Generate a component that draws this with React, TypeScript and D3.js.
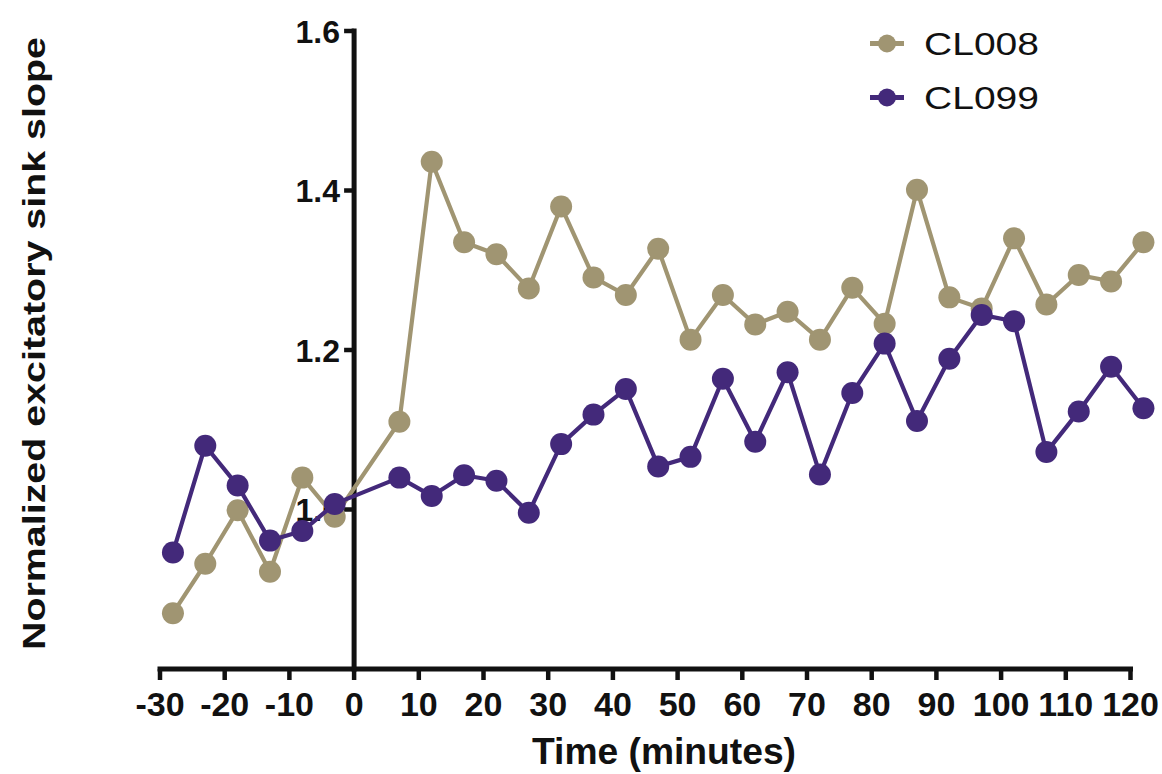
import React from "react";
import * as d3 from "d3";

// Sampling times (minutes relative to induction)
const times = [
  -28, -23, -18, -13, -8, -3, 7, 12, 17, 22, 27, 32, 37, 42, 47, 52, 57, 62,
  67, 72, 77, 82, 87, 92, 97, 102, 107, 112, 117, 122,
];

const cl008 = [
  0.87, 0.932, 0.999, 0.922, 1.04, 0.991, 1.11, 1.436, 1.335, 1.32, 1.277,
  1.38, 1.291, 1.269, 1.327, 1.213, 1.269, 1.232, 1.248, 1.213, 1.278, 1.233,
  1.401, 1.266, 1.252, 1.34, 1.257, 1.294, 1.286, 1.335,
];

const cl099 = [
  0.946, 1.08, 1.03, 0.961, 0.973, 1.007, 1.04, 1.017, 1.043, 1.036, 0.996,
  1.082, 1.119, 1.151, 1.054, 1.066, 1.164, 1.085, 1.172, 1.044, 1.146, 1.208,
  1.111, 1.189, 1.244, 1.236, 1.072, 1.123, 1.179, 1.127,
];

const seriesNames = ["CL008", "CL099"];
const seriesColors = ["#A09572", "#43297A"];

const xTicks = [-30, -20, -10, 0, 10, 20, 30, 40, 50, 60, 70, 80, 90, 100, 110, 120];
const yTicks = [1, 1.2, 1.4, 1.6];

const W = 1162;
const H = 774;

export default function App() {
  const x = d3.scaleLinear().domain([-30, 120]).range([160, 1130.5]);
  const y = d3.scaleLinear().domain([0.8, 1.6]).range([669, 31]);
  const yFmt = d3.format(".1f");

  const line = d3
    .line<[number, number]>()
    .x((d) => x(d[0]))
    .y((d) => y(d[1]));

  const series = [cl008, cl099].map((vals) =>
    times.map((t, i) => [t, vals[i]] as [number, number])
  );

  const x0 = x(0);
  const yBase = y(0.8);
  const font = "'Liberation Sans', Arial, sans-serif";

  return (
    <svg
      width={W}
      height={H}
      viewBox={`0 0 ${W} ${H}`}
      style={{ position: "absolute", left: 0, top: 0, display: "block", background: "#fff" }}
      fontFamily={font}
    >
      {/* y tick labels (drawn under the data) */}
      {yTicks.map((v) => (
        <text
          key={"yl" + v}
          x={340}
          y={y(v) + 11.5}
          textAnchor="end"
          fontSize={32}
          fontWeight="bold"
          fill="#111"
        >
          {yFmt(v)}
        </text>
      ))}

      {/* x axis */}
      <line x1={x(-30)} x2={x(120)} y1={yBase} y2={yBase} stroke="#111" strokeWidth={5} strokeLinecap="square" />
      {xTicks.map((t) => (
        <g key={"xt" + t}>
          <line x1={x(t)} x2={x(t)} y1={yBase} y2={yBase + 11} stroke="#111" strokeWidth={4.5} />
          <text
            x={x(t)}
            y={716}
            textAnchor="middle"
            fontSize={34}
            fontWeight="bold"
            fill="#111"
          >
            {String(t)}
          </text>
        </g>
      ))}

      {/* y axis crossing at time 0 */}
      <line x1={x0} x2={x0} y1={y(1.6)} y2={yBase} stroke="#111" strokeWidth={5} strokeLinecap="square" />
      {yTicks.map((v) => (
        <line key={"yt" + v} x1={x0 - 10} x2={x0} y1={y(v)} y2={y(v)} stroke="#111" strokeWidth={4.5} />
      ))}

      {/* axis titles */}
      <text
        x={664}
        y={764}
        textAnchor="middle"
        fontSize={36}
        fontWeight="bold"
        fill="#111"
        textLength={264}
        lengthAdjust="spacingAndGlyphs"
      >
        Time (minutes)
      </text>
      <text
        transform="translate(45,343.5) rotate(-90)"
        textAnchor="middle"
        fontSize={31}
        fontWeight="bold"
        fill="#111"
        textLength={613}
        lengthAdjust="spacingAndGlyphs"
      >
        Normalized excitatory sink slope
      </text>

      {/* data series */}
      {series.map((pts, si) => (
        <g key={"s" + si}>
          <path d={line(pts) || ""} fill="none" stroke={seriesColors[si]} strokeWidth={4.2} strokeLinejoin="round" />
          {pts.map((p, i) => (
            <circle key={i} cx={x(p[0])} cy={y(p[1])} r={11} fill={seriesColors[si]} />
          ))}
        </g>
      ))}

      {/* legend */}
      {seriesNames.map((name, i) => {
        const cy = 43.5 + i * 54;
        return (
          <g key={"lg" + name}>
            <line x1={870} x2={904} y1={cy} y2={cy} stroke={seriesColors[i]} strokeWidth={5} />
            <circle cx={887} cy={cy} r={9} fill={seriesColors[i]} />
            <text
              x={924}
              y={cy + 11.5}
              fontSize={31}
              fill="#111"
              textLength={115}
              lengthAdjust="spacingAndGlyphs"
            >
              {name}
            </text>
          </g>
        );
      })}
    </svg>
  );
}
